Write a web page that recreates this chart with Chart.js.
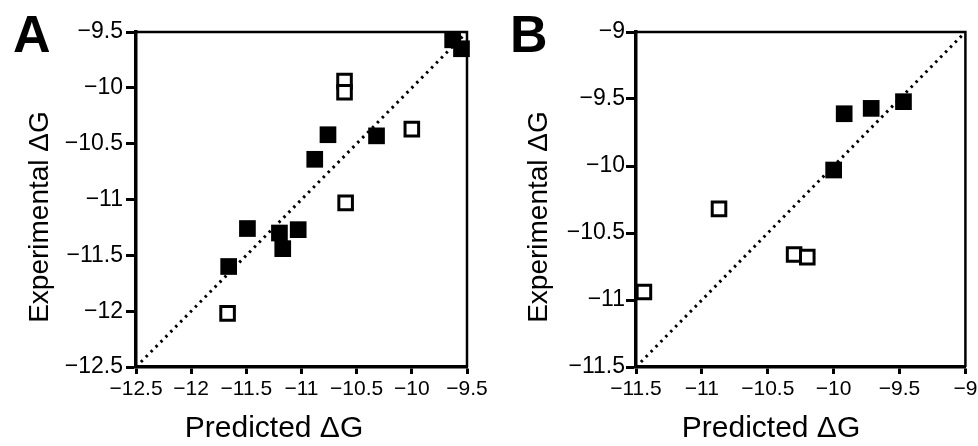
<!DOCTYPE html>
<html>
<head>
<meta charset="utf-8">
<script src="https://cdn.jsdelivr.net/npm/chart.js@4"></script>
<style>
  html, body { margin: 0; padding: 0; background: #fff; }
  body { width: 978px; height: 446px; position: relative; overflow: hidden; }
  .panel { position: absolute; top: 0; width: 489px; height: 446px; }
</style>
</head>
<body>
<div class="panel" style="left:0"><canvas id="chartA"></canvas></div>
<div class="panel" style="left:489px"><canvas id="chartB"></canvas></div>
<script>
// panel A
const ticksA = [-12.5, -12, -11.5, -11, -10.5, -10, -9.5];
const predA_filled = [-9.63, -9.55, -10.76, -10.32, -10.88, -11.49, -11.20, -11.17, -11.03, -11.66];
const expA_filled  = [-9.57, -9.65, -10.42, -10.43, -10.64, -11.26, -11.30, -11.44, -11.27, -11.60];
const predA_open = [-10.61, -10.61, -10.00, -10.60, -11.67];
const expA_open  = [-9.94, -10.04, -10.37, -11.03, -12.02];

// panel B
const ticksB = [-11.5, -11, -10.5, -10, -9.5, -9];
const predB_filled = [-9.92, -9.715, -9.47, -10.00];
const expB_filled  = [-9.61, -9.57, -9.52, -10.03];
const predB_open = [-10.87, -10.30, -10.20, -11.44];
const expB_open  = [-10.32, -10.66, -10.68, -10.94];

const FONT = "'Liberation Sans', Arial, Helvetica, sans-serif";

function toPoints(xs, ys) {
    return xs.map((x, i) => ({ x: x, y: ys[i] }));
}

function fmt(v) {
    return String(v).replace('-', '\u2212');
}

// frame (top/right spines) and the texts that are placed off the axis centre
const panelText = {
    id: 'panelText',
    beforeDatasetsDraw(chart, args, opts) {
        const a = chart.chartArea;
        const ctx = chart.ctx;
        ctx.save();
        ctx.strokeStyle = '#000';
        ctx.lineWidth = 2.5;
        ctx.beginPath();
        ctx.moveTo(a.left, a.top);
        ctx.lineTo(a.right, a.top);
        ctx.lineTo(a.right, a.bottom);
        ctx.stroke();
        ctx.restore();
    },
    afterDraw(chart, args, opts) {
        const ctx = chart.ctx;
        ctx.save();
        ctx.fillStyle = '#000';
        ctx.textBaseline = 'alphabetic';

        ctx.font = 'bold 52px ' + FONT;
        ctx.textAlign = 'left';
        ctx.fillText(opts.letter, opts.letterX, 52);

        ctx.font = '30px ' + FONT;
        ctx.textAlign = 'center';
        ctx.fillText('Predicted \u0394G', opts.xTitleX, 437);

        ctx.font = '28px ' + FONT;
        ctx.translate(opts.yTitleX, 217);
        ctx.rotate(-Math.PI / 2);
        ctx.fillText('Experimental \u0394G', 0, 0);
        ctx.restore();
    }
};

function makeAxis(ticks, pos, fitSize, tickLen, pad, size) {
    return {
        type: 'linear',
        position: pos,
        min: ticks[0],
        max: ticks[ticks.length - 1],
        afterBuildTicks: (s) => { s.ticks = ticks.map(v => ({ value: v })); },
        afterFit: (s) => {
            if (pos === 'left') s.width = fitSize; else s.height = fitSize;
            s.paddingLeft = 0; s.paddingRight = 0; s.paddingTop = 0; s.paddingBottom = 0;
        },
        border: { display: true, color: '#000', width: 3.5 },
        grid: { drawOnChartArea: false, drawTicks: true, tickLength: tickLen, tickWidth: 3, tickColor: '#000', color: '#000' },
        ticks: {
            color: '#000',
            padding: pad,
            autoSkip: false,
            maxRotation: 0,
            font: { family: FONT, size: size },
            callback: (v) => fmt(v)
        }
    };
}

function makeChart(id, ticks, predF, expF, predO, expO, cfg) {
    const ctx = document.getElementById(id).getContext('2d');
    return new Chart(ctx, {
        type: 'scatter',
        data: {
            datasets: [{
                label: 'filled',
                data: toPoints(predF, expF),
                pointStyle: 'rect',
                pointRadius: 11.8,
                backgroundColor: '#000',
                borderWidth: 0,
                clip: false,
                order: 1
            }, {
                label: 'open',
                data: toPoints(predO, expO),
                pointStyle: 'rect',
                pointRadius: 9.6,
                backgroundColor: '#fff',
                borderColor: '#000',
                borderWidth: 3,
                clip: false,
                order: 2
            }, {
                label: 'identity',
                type: 'line',
                data: toPoints([ticks[0], ticks[ticks.length - 1]], [ticks[0], ticks[ticks.length - 1]]),
                borderColor: '#000',
                borderWidth: 3,
                borderDash: [2.5, 4.5],
                pointRadius: 0,
                fill: false,
                order: 3
            }]
        },
        options: {
            responsive: false,
            animation: false,
            layout: { padding: { top: 32, right: cfg.padRight, left: 0, bottom: 0 } },
            plugins: {
                legend: { display: false },
                tooltip: { enabled: false },
                panelText: cfg.text
            },
            scales: {
                x: makeAxis(ticks, 'bottom', 79, 7, 3, 21),
                y: makeAxis(ticks, 'left', cfg.yWidth, 10, cfg.yPad, 23)
            }
        },
        plugins: [panelText]
    });
}

document.getElementById('chartA').width = 489;
document.getElementById('chartA').height = 446;
document.getElementById('chartB').width = 489;
document.getElementById('chartB').height = 446;

makeChart('chartA', ticksA, predA_filled, expA_filled, predA_open, expA_open, {
    padRight: 22, yWidth: 136, yPad: 3,
    text: { letter: 'A', letterX: 13, xTitleX: 274, yTitleX: 48 }
});

makeChart('chartB', ticksB, predB_filled, expB_filled, predB_open, expB_open, {
    padRight: 7, yWidth: 147, yPad: 1,
    text: { letter: 'B', letterX: 21, xTitleX: 282, yTitleX: 58 }
});
</script>
</body>
</html>
